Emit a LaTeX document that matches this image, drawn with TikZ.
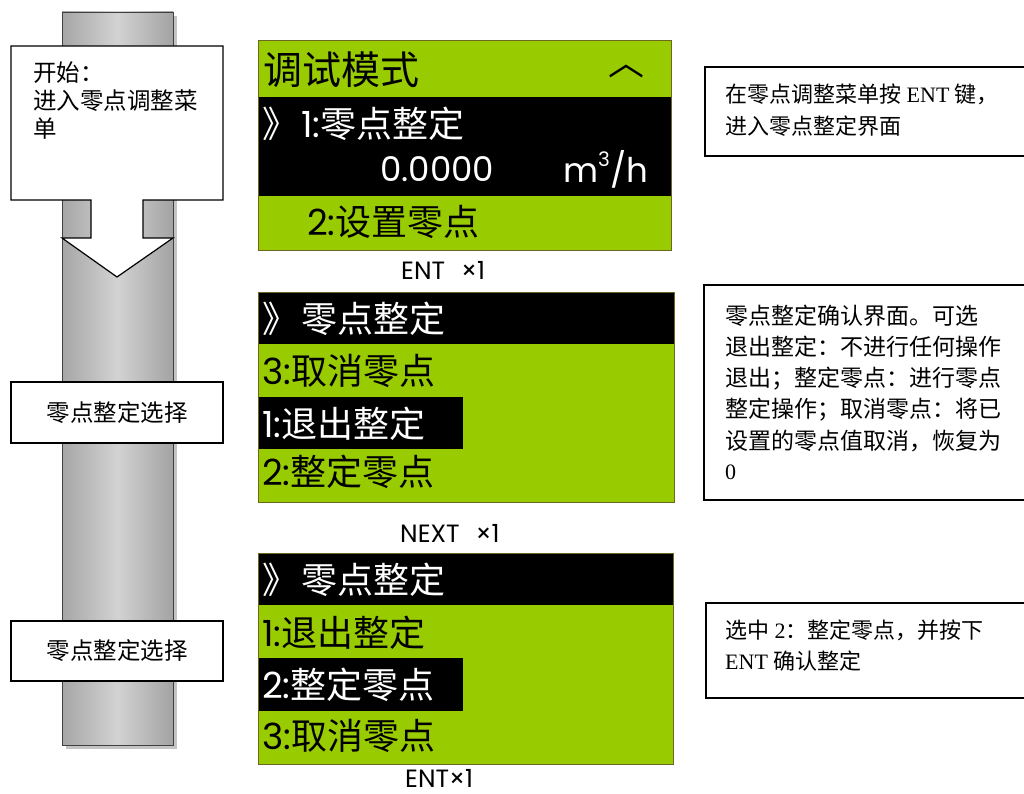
\documentclass[tikz,border=0pt]{standalone}
\usepackage{fontspec}
\setmainfont{Liberation Serif}
\newfontfamily\cjk{Noto Sans CJK SC}
\newfontfamily\lcd{Poppins}
\definecolor{lcdgreen}{HTML}{99CC00}
\definecolor{colshadow}{HTML}{C4C4C4}
\tikzset{
  x=1pt,y=-1pt,
  lcdtext/.style={anchor=west,inner sep=0pt,font=\fontsize{36}{36}\selectfont},
  keylabel/.style={anchor=west,inner sep=0pt,font=\lcd\fontsize{25}{25}\selectfont},
  sidebox/.style={draw=black,line width=1.2pt,fill=white},
  noteline/.style={anchor=west,inner sep=0pt,font=\fontsize{22}{22}\selectfont},
  leftline/.style={anchor=west,inner sep=0pt,font=\cjk\fontsize{23.5}{23.5}\selectfont},
  leftbox/.style={draw=black,line width=1.2pt,fill=white}
}
\begin{document}
\begin{tikzpicture}
\useasboundingbox (0,0) rectangle (1024,794);
\clip (0,0) rectangle (1024,794);
% column
\fill[colshadow] (66,16) rectangle (177,749);
\shade[left color=gray!70,right color=gray!72,middle color=gray!35] (62,12) rectangle (173,745);
\draw[gray!50!black,line width=0.8pt] (62,12) rectangle (173,745);
% start callout
\draw[leftbox] (11,46) -- (223,46) -- (223,200) -- (143,200) -- (143,238) -- (173,238)
  -- (117,277) -- (62,238) -- (91,238) -- (91,200) -- (11,200) -- cycle;
\node[leftline] (start1) at (33,73) {开始：};
\node[leftline] (start2) at (33,101) {进入零点调整菜};
\node[leftline] (start3) at (33,129) {单};
% select boxes
\node[leftbox,minimum width=212,minimum height=61,font=\cjk\fontsize{23.5}{23.5}\selectfont] (sel1) at (117,412.5) {零点整定选择};
\node[leftbox,minimum width=212,minimum height=60,font=\cjk\fontsize{23.5}{23.5}\selectfont] (sel2) at (117,651) {零点整定选择};
% screen 1
\fill[lcdgreen] (258,40) rectangle (671,250);
\fill[black] (258,97) rectangle (671,196);
\draw[olive!70!black,line width=0.6pt] (258,40) rectangle (671,250);
\node[lcdtext,font=\cjk\fontsize{39}{39}\selectfont] (s1title) at (263,70) {调试模式};
\node[lcdtext,font=\cjk\fontsize{36}{36}\selectfont] (s1up) at (608,71) {︿};
\node[lcdtext,text=white] (s1l1) at (262,124) {{\cjk 》}\hspace{3pt}{\lcd 1:}{\cjk 零点整定}};
\node[lcdtext,text=white,font=\lcd\fontsize{34}{34}\selectfont] (s1val) at (380,169) {0.0000};
\node[lcdtext,text=white,font=\lcd\fontsize{34}{34}\selectfont] (s1unit) at (563,169) {m\raisebox{0.45em}{\fontsize{20}{20}\selectfont 3}/h};
\node[lcdtext] (s1l2) at (307,222) {{\lcd 2:}{\cjk 设置零点}};
\node[keylabel] (k1) at (401,270) {ENT\hspace{16pt}×1};
% screen 2
\fill[lcdgreen] (258,292) rectangle (674,502);
\fill[black] (258,292) rectangle (674,344);
\fill[black] (258,397) rectangle (463,449);
\draw[olive!70!black,line width=0.6pt] (258,292) rectangle (674,502);
\node[lcdtext,text=white] (s2t) at (262,319) {{\cjk 》}\hspace{3pt}{\cjk 零点整定}};
\node[lcdtext] (s2a) at (262,371) {{\lcd 3:}{\cjk 取消零点}};
\node[lcdtext,text=white] (s2b) at (262,424) {{\lcd 1:}{\cjk 退出整定}};
\node[lcdtext] (s2c) at (262,472) {{\lcd 2:}{\cjk 整定零点}};
\node[keylabel] (k2) at (400,533) {NEXT\hspace{16pt}×1};
% screen 3
\fill[lcdgreen] (258,553) rectangle (673,764);
\fill[black] (258,553) rectangle (673,605);
\fill[black] (258,658) rectangle (463,711);
\draw[olive!70!black,line width=0.6pt] (258,553) rectangle (673,764);
\node[lcdtext,text=white] (s3t) at (262,580) {{\cjk 》}\hspace{3pt}{\cjk 零点整定}};
\node[lcdtext] (s3a) at (262,633) {{\lcd 1:}{\cjk 退出整定}};
\node[lcdtext,text=white] (s3b) at (262,685) {{\lcd 2:}{\cjk 整定零点}};
\node[lcdtext] (s3c) at (262,736) {{\lcd 3:}{\cjk 取消零点}};
\node[keylabel] (k3) at (405,778) {ENT×1};
% right notes
\draw[sidebox] (705,67) rectangle (1040,156);
\node[noteline] (n1a) at (725,94) {{\cjk 在零点调整菜单按}~ENT~{\cjk 键，}};
\node[noteline] (n1b) at (725,126) {{\cjk 进入零点整定界面}};
\draw[sidebox] (704,285) rectangle (1040,500);
\begin{scope}[noteline/.append style={font=\fontsize{23}{23}\selectfont\addfontfeature{LetterSpace=3}}]
\node[noteline] (n2a) at (725,316) {{\cjk 零点整定确认界面。可选}};
\node[noteline] (n2b) at (725,347) {{\cjk 退出整定：不进行任何操作}};
\node[noteline] (n2c) at (725,379) {{\cjk 退出；整定零点：进行零点}};
\node[noteline] (n2d) at (725,410) {{\cjk 整定操作；取消零点：将已}};
\node[noteline] (n2e) at (725,441) {{\cjk 设置的零点值取消，恢复为}};
\end{scope}
\node[noteline] (n2f) at (725,472) {0};
\draw[sidebox] (706,603) rectangle (1040,698);
\node[noteline] (n3a) at (725,630) {{\cjk 选中}~2{\cjk ：整定零点，并按下}};
\node[noteline] (n3b) at (725,661) {ENT~{\cjk 确认整定}};
\end{tikzpicture}
\end{document}
